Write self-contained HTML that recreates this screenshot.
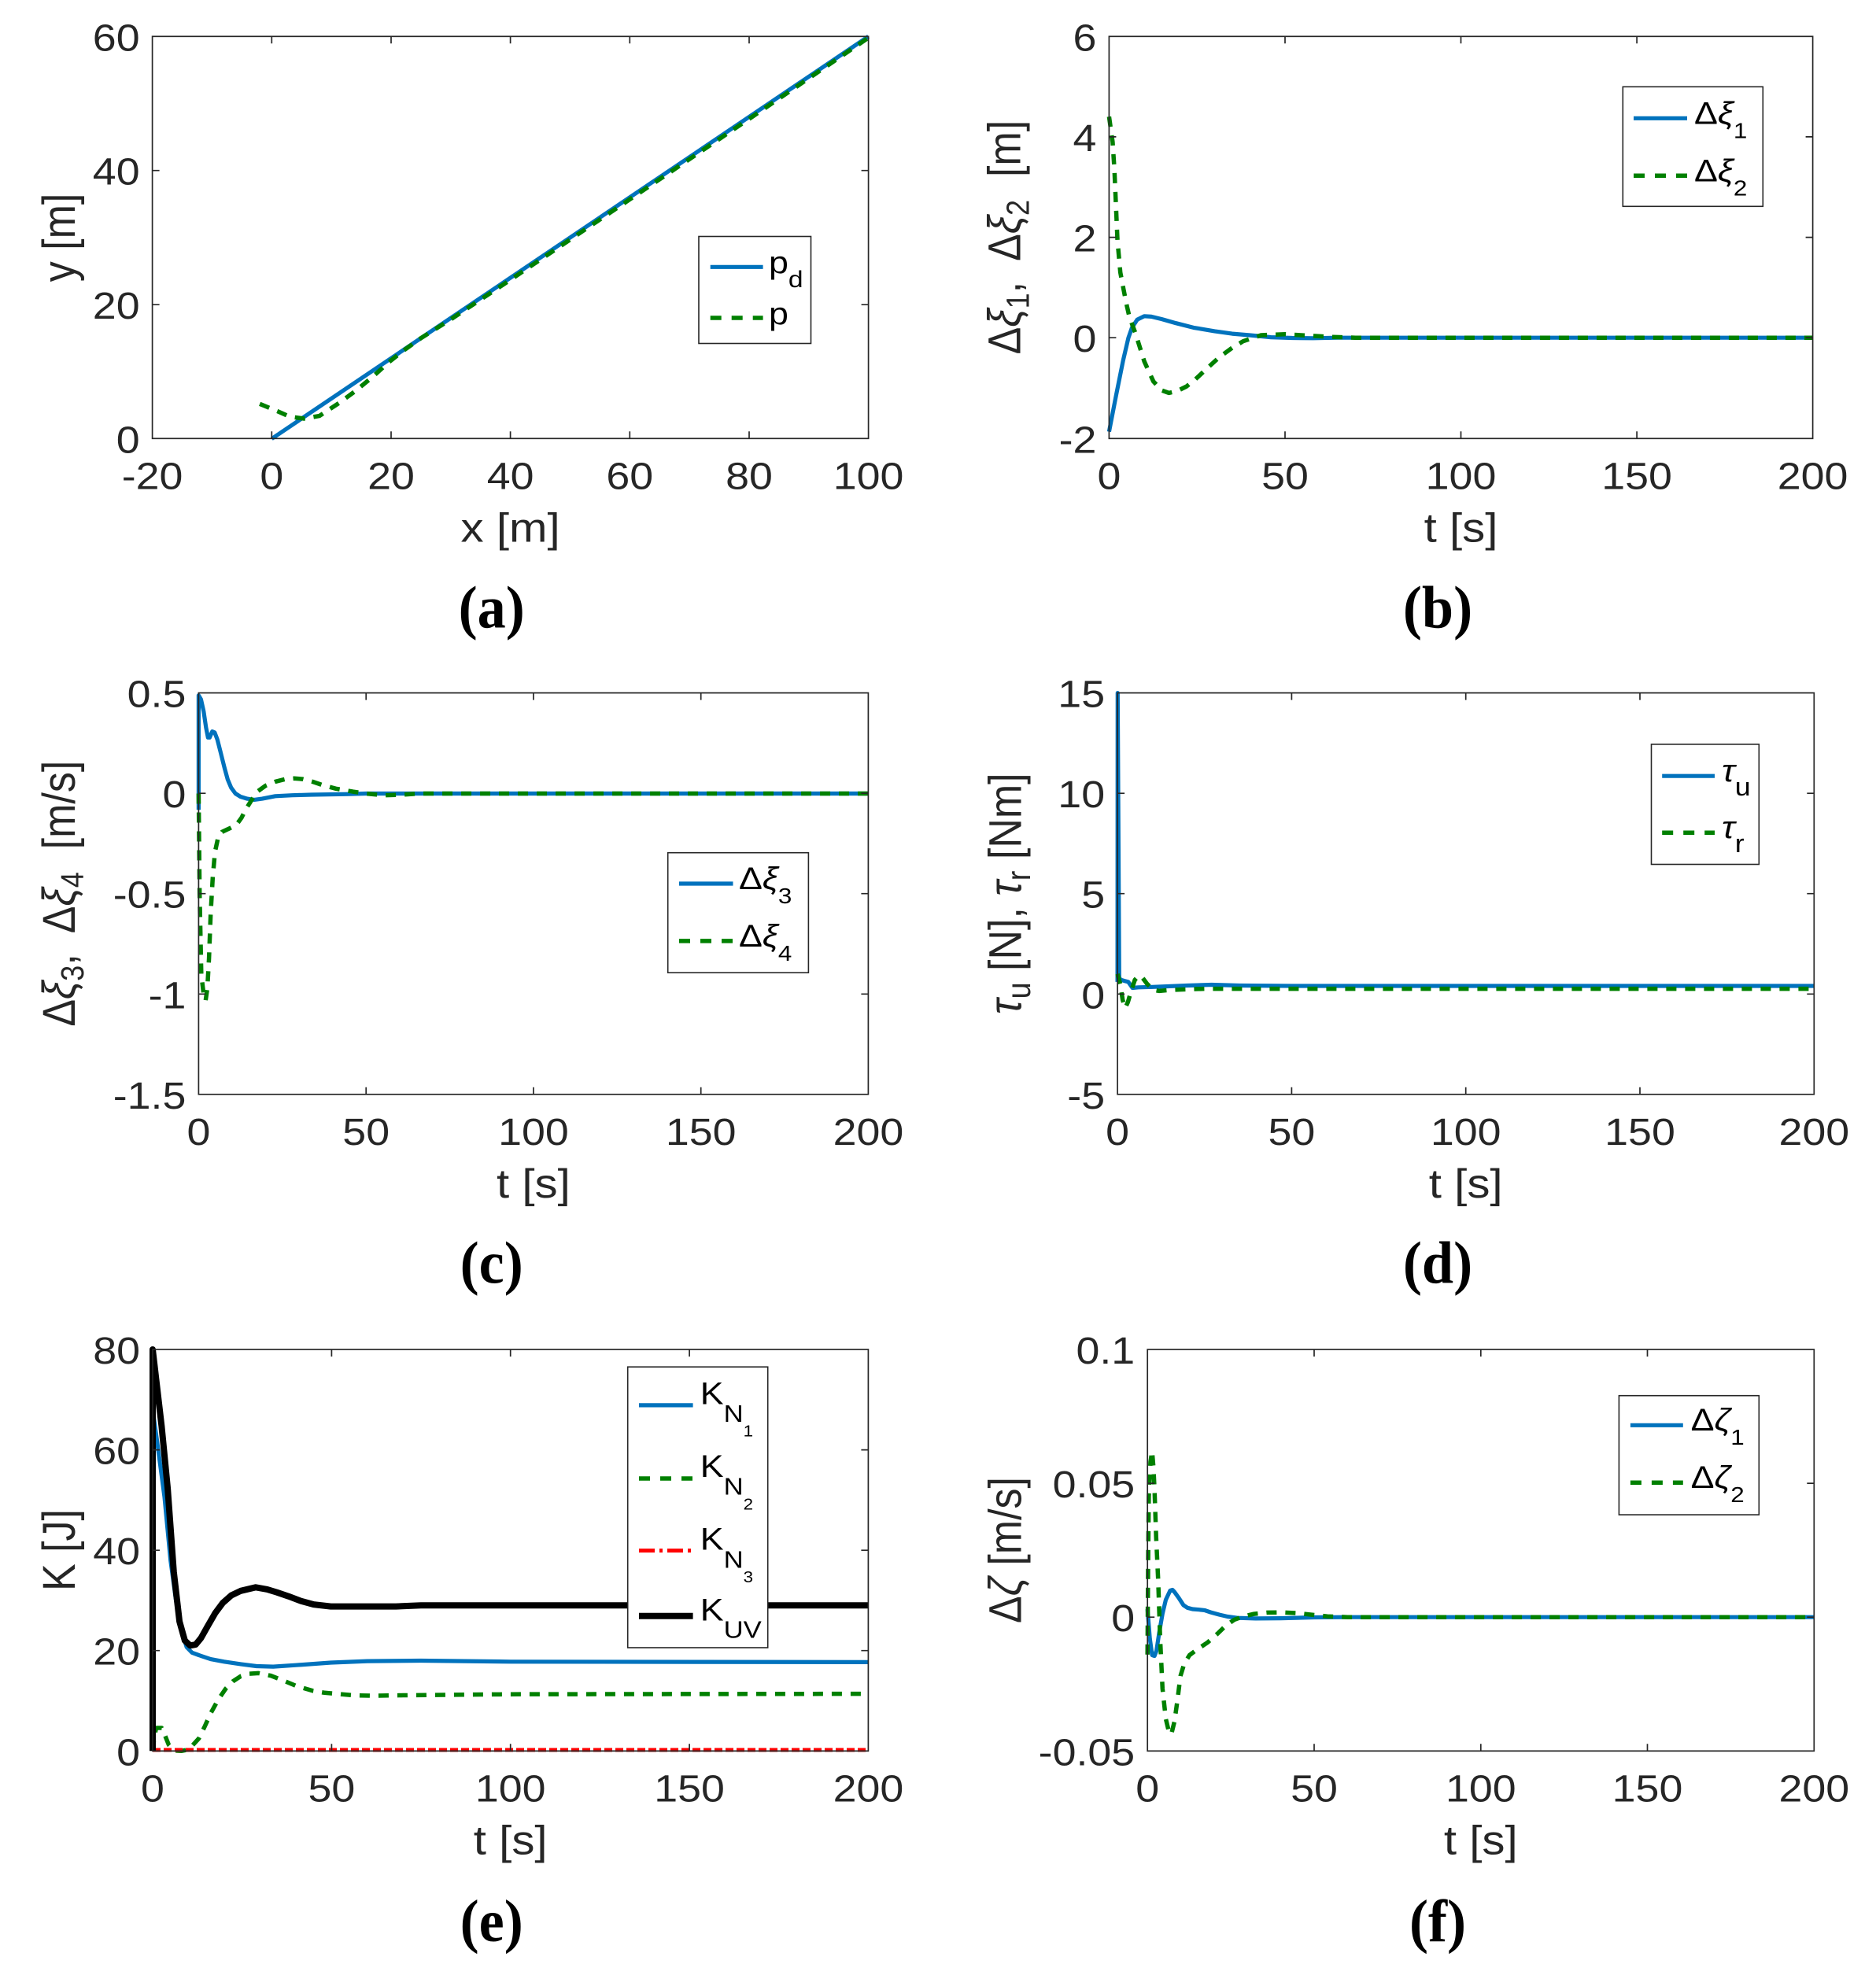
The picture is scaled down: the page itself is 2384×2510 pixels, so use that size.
<!DOCTYPE html>
<html>
<head>
<meta charset="utf-8">
<style>
html,body{margin:0;padding:0;background:#fff;}
svg{display:block;}
.tk{font-family:"Liberation Sans","DejaVu Sans",sans-serif;font-size:48px;fill:#262626;}
.lb{font-family:"Liberation Sans","DejaVu Sans",sans-serif;font-size:52px;fill:#262626;white-space:pre;}
.lg{font-family:"Liberation Sans","DejaVu Sans",sans-serif;font-size:40px;fill:#000;white-space:pre;}
.pl{font-family:"Liberation Serif","DejaVu Serif",serif;font-size:76px;font-weight:bold;fill:#000;}
.ax{fill:none;stroke:#262626;stroke-width:1.7;}
.bl{fill:none;stroke:#0072BD;stroke-width:5.2;stroke-linejoin:round;stroke-linecap:butt;}
.gr{fill:none;stroke:#008000;stroke-width:5.5;stroke-linejoin:round;stroke-dasharray:13 11;}
.rd{fill:none;stroke:#FF0000;stroke-width:5;stroke-dasharray:10 4;}
.bk{fill:none;stroke:#000;stroke-width:8;stroke-linejoin:round;}
.lgb{fill:#fff;stroke:#262626;stroke-width:1.6;}
</style>
</head>
<body>
<svg width="2384" height="2510" viewBox="0 0 2384 2510" xmlns="http://www.w3.org/2000/svg">
<rect x="0" y="0" width="2384" height="2510" fill="#fff"/>

<!-- ================= PANEL A ================= -->
<path class="bl" d="M345.3,557.6 L1103.6,46.3"/>
<path class="gr" d="M330.1,513.3 L352.9,522.7 L368,529.5 L386.2,532 L405.9,528.6 L431.7,511.6 L451.4,497.1 L474.2,478.3 L493.9,460.5 L512.1,446 L534.8,429.8 L572.8,405.9 L648.6,355.6 L800.3,253.4 L952,151.1 L1103.6,48"/>
<rect class="ax" x="193.6" y="46.3" width="910" height="511"/>
<path class="ax" d="M345.3,557.3V548.3M497,557.3V548.3M648.6,557.3V548.3M800.3,557.3V548.3M952,557.3V548.3
M345.3,46.3V55.3M497,46.3V55.3M648.6,46.3V55.3M800.3,46.3V55.3M952,46.3V55.3
M193.6,387.2H202.6M193.6,216.7H202.6M1103.6,387.2H1094.6M1103.6,216.7H1094.6"/>
<g class="tk" text-anchor="middle">
<text transform="translate(193.6,621.6) scale(1.12,1)">-20</text>
<text transform="translate(345.3,621.6) scale(1.12,1)">0</text>
<text transform="translate(497,621.6) scale(1.12,1)">20</text>
<text transform="translate(648.6,621.6) scale(1.12,1)">40</text>
<text transform="translate(800.3,621.6) scale(1.12,1)">60</text>
<text transform="translate(952,621.6) scale(1.12,1)">80</text>
<text transform="translate(1103.6,621.6) scale(1.12,1)">100</text>
</g>
<g class="tk" text-anchor="end">
<text transform="translate(177.6,575.6) scale(1.12,1)">0</text>
<text transform="translate(177.6,405.2) scale(1.12,1)">20</text>
<text transform="translate(177.6,234.7) scale(1.12,1)">40</text>
<text transform="translate(177.6,64.3) scale(1.12,1)">60</text>
</g>
<text class="lb" text-anchor="middle" transform="translate(648.6,688.6) scale(1.12,1)">x [m]</text>
<text class="lb" text-anchor="middle" transform="translate(95,302) scale(1.12,1) rotate(-90)">y [m]</text>
<rect class="lgb" x="888" y="300.5" width="142.5" height="136"/>
<path class="bl" d="M902.7,339.3H969.6"/>
<path class="gr" d="M902.7,404H969.6" style="stroke-dasharray:14 13"/>
<text class="lg" transform="translate(977,347) scale(1.12,1)">p<tspan font-size="30" dy="18">d</tspan></text>
<text class="lg" transform="translate(977,412) scale(1.12,1)">p</text>
<text class="pl" text-anchor="middle" transform="translate(624.7,797.3) scale(0.95,1)">(a)</text>

<!-- ================= PANEL B ================= -->
<path class="bl" d="M1409.4,548.6 L1418.3,502.6 L1427.3,457.9 L1434,429.2 L1438.5,416.4 L1445.2,406.2 L1454.1,401.8 L1463.1,402.4 L1476.5,405.6 L1494.4,410.7 L1516.7,416.4 L1543.5,420.9 L1565.9,424.1 L1588.2,426 L1615.1,428.6 L1641.9,429.5 L1668.7,429.8 L1700,429.2 L2303.6,429.2"/>
<path class="gr" d="M1409.4,148.3 L1413.9,180.3 L1416.1,214.1 L1420.1,306 L1423.7,346.2 L1427.7,367.3 L1431.8,387.7 L1435.3,403 L1442.9,423.5 L1454.1,459.2 L1465.7,484.7 L1476.5,496.2 L1485.4,499.4 L1496.1,496.9 L1507.8,491.1 L1518.9,482.2 L1534.6,467.5 L1549.3,454.1 L1565.9,442 L1579.7,433.7 L1602.5,426 L1633,424.7 L1663.4,426.6 L1691.1,428.2 L1722.4,429.2 L2303.6,429.2"/>
<rect class="ax" x="1409.4" y="46.3" width="894.2" height="511"/>
<path class="ax" d="M1633,557.3V548.3M1856.5,557.3V548.3M2080.1,557.3V548.3
M1633,46.3V55.3M1856.5,46.3V55.3M2080.1,46.3V55.3
M1409.4,429.2H1418.4M1409.4,301.6H1418.4M1409.4,173.9H1418.4
M2303.6,429.2H2294.6M2303.6,301.6H2294.6M2303.6,173.9H2294.6"/>
<g class="tk" text-anchor="middle">
<text transform="translate(1409.4,621.3) scale(1.12,1)">0</text>
<text transform="translate(1633,621.3) scale(1.12,1)">50</text>
<text transform="translate(1856.5,621.3) scale(1.12,1)">100</text>
<text transform="translate(2080.1,621.3) scale(1.12,1)">150</text>
<text transform="translate(2303.6,621.3) scale(1.12,1)">200</text>
</g>
<g class="tk" text-anchor="end">
<text transform="translate(1393.4,575.3) scale(1.12,1)">-2</text>
<text transform="translate(1393.4,447.2) scale(1.12,1)">0</text>
<text transform="translate(1393.4,319.6) scale(1.12,1)">2</text>
<text transform="translate(1393.4,191.9) scale(1.12,1)">4</text>
<text transform="translate(1393.4,64.3) scale(1.12,1)">6</text>
</g>
<text class="lb" text-anchor="middle" transform="translate(1856.5,688.3) scale(1.12,1)">t [s]</text>
<text class="lb" text-anchor="middle" transform="translate(1296.5,301.6) scale(1.12,1) rotate(-90)">Δ<tspan font-style="italic">ξ</tspan><tspan font-size="36" dy="10">1</tspan><tspan dy="-10">,  Δ</tspan><tspan font-style="italic">ξ</tspan><tspan font-size="36" dy="10">2</tspan><tspan dy="-10">  [m]</tspan></text>
<rect class="lgb" x="2062.3" y="110.3" width="178" height="152"/>
<path class="bl" d="M2076,150.3H2144"/>
<path class="gr" d="M2076,223.3H2144" style="stroke-dasharray:14 13"/>
<text class="lg" transform="translate(2153,157.5) scale(1.12,1)">Δ<tspan font-style="italic">ξ</tspan><tspan font-size="28" dy="18">1</tspan></text>
<text class="lg" transform="translate(2153,230.5) scale(1.12,1)">Δ<tspan font-style="italic">ξ</tspan><tspan font-size="28" dy="18">2</tspan></text>
<text class="pl" text-anchor="middle" transform="translate(1827,797.3) scale(0.95,1)">(b)</text>

<!-- ================= PANEL C ================= -->
<path class="bl" d="M252.4,1029.1 L252.4,883.7 L255.4,888.8 L258.8,904.1 L261.8,924.5 L264.3,937.3 L266.4,937.3 L269.8,929.6 L272.8,930.9 L276.2,939.8 L280.1,955.1 L285.2,975.5 L289.4,990.8 L293.7,1001 L299.2,1008.5 L305.6,1012.5 L314.1,1015.1 L323.1,1016.4 L333.2,1015.1 L349.8,1011.8 L371.5,1010.7 L395.4,1010 L443.9,1009.2 L465.2,1008.5 L1103.4,1008.5"/>
<path class="gr" d="M252.4,1008.5 L253.7,1136.3 L255.8,1238.3 L258.8,1263.8 L261.3,1271.5 L263.5,1256.1 L265.6,1217.9 L267.7,1161.8 L270.3,1115.8 L273.2,1082.7 L277.1,1064.8 L282.2,1057.2 L290.7,1053.3 L300.5,1048.2 L306.9,1039.3 L312,1029.1 L318.4,1018.9 L326.9,1006.1 L337.5,998.5 L349.8,993.4 L363,990.1 L373.7,989.3 L384.3,990.1 L397.1,993.4 L410.7,998 L426.9,1002.3 L448.6,1006.1 L465.2,1008.5 L486.4,1010.7 L507.7,1010.2 L533.2,1008.5 L1103.4,1008.5"/>
<rect class="ax" x="252.4" y="880.6" width="851" height="510.2"/>
<path class="ax" d="M465.2,1390.8V1381.8M677.9,1390.8V1381.8M890.7,1390.8V1381.8
M465.2,880.6V889.6M677.9,880.6V889.6M890.7,880.6V889.6
M252.4,1008.2H261.4M252.4,1135.7H261.4M252.4,1263.3H261.4
M1103.4,1008.2H1094.4M1103.4,1135.7H1094.4M1103.4,1263.3H1094.4"/>
<g class="tk" text-anchor="middle">
<text transform="translate(252.4,1454.8) scale(1.12,1)">0</text>
<text transform="translate(465.2,1454.8) scale(1.12,1)">50</text>
<text transform="translate(677.9,1454.8) scale(1.12,1)">100</text>
<text transform="translate(890.7,1454.8) scale(1.12,1)">150</text>
<text transform="translate(1103.4,1454.8) scale(1.12,1)">200</text>
</g>
<g class="tk" text-anchor="end">
<text transform="translate(236.4,898.6) scale(1.12,1)">0.5</text>
<text transform="translate(236.4,1026.2) scale(1.12,1)">0</text>
<text transform="translate(236.4,1153.7) scale(1.12,1)">-0.5</text>
<text transform="translate(236.4,1281.3) scale(1.12,1)">-1</text>
<text transform="translate(236.4,1408.8) scale(1.12,1)">-1.5</text>
</g>
<text class="lb" text-anchor="middle" transform="translate(677.9,1521.8) scale(1.12,1)">t [s]</text>
<text class="lb" text-anchor="middle" transform="translate(95,1135.7) scale(1.12,1) rotate(-90)">Δ<tspan font-style="italic">ξ</tspan><tspan font-size="36" dy="10">3</tspan><tspan dy="-10">,  Δ</tspan><tspan font-style="italic">ξ</tspan><tspan font-size="36" dy="10">4</tspan><tspan dy="-10">  [m/s]</tspan></text>
<rect class="lgb" x="848.7" y="1083.7" width="178.7" height="152.5"/>
<path class="bl" d="M863,1123H931.5"/>
<path class="gr" d="M863,1195.9H931.5" style="stroke-dasharray:14 13"/>
<text class="lg" transform="translate(939,1130) scale(1.12,1)">Δ<tspan font-style="italic">ξ</tspan><tspan font-size="28" dy="18">3</tspan></text>
<text class="lg" transform="translate(939,1203) scale(1.12,1)">Δ<tspan font-style="italic">ξ</tspan><tspan font-size="28" dy="18">4</tspan></text>
<text class="pl" text-anchor="middle" transform="translate(624.7,1630.6) scale(0.95,1)">(c)</text>

<!-- ================= PANEL D ================= -->
<path class="bl" d="M1420.1,1247.9 L1420.3,880.6 L1422.3,1242.8 L1424.5,1245.3 L1429,1246.6 L1433.8,1247.9 L1439.1,1255.5 L1446.7,1254.8 L1464.4,1254.3 L1508.6,1252.5 L1539.6,1251.5 L1575,1252.5 L1641.4,1253 L2305.3,1253"/>
<path class="gr" d="M1420.1,1237.7 L1423.6,1250.4 L1426.7,1270.9 L1429.8,1281.1 L1433.4,1273.4 L1437.8,1258.1 L1442.2,1245.3 L1446.7,1240.2 L1451.1,1241.5 L1457.7,1250.4 L1465.7,1258.1 L1473.2,1259.4 L1486.5,1258.1 L1530.8,1256.6 L2305.3,1256.6"/>
<rect class="ax" x="1420.1" y="880.6" width="885.2" height="510.2"/>
<path class="ax" d="M1641.4,1390.8V1381.8M1862.7,1390.8V1381.8M2084,1390.8V1381.8
M1641.4,880.6V889.6M1862.7,880.6V889.6M2084,880.6V889.6
M1420.1,1008.2H1429.1M1420.1,1135.7H1429.1M1420.1,1263.3H1429.1
M2305.3,1008.2H2296.3M2305.3,1135.7H2296.3M2305.3,1263.3H2296.3"/>
<g class="tk" text-anchor="middle">
<text transform="translate(1420.1,1454.8) scale(1.12,1)">0</text>
<text transform="translate(1641.4,1454.8) scale(1.12,1)">50</text>
<text transform="translate(1862.7,1454.8) scale(1.12,1)">100</text>
<text transform="translate(2084,1454.8) scale(1.12,1)">150</text>
<text transform="translate(2305.3,1454.8) scale(1.12,1)">200</text>
</g>
<g class="tk" text-anchor="end">
<text transform="translate(1404.1,898.6) scale(1.12,1)">15</text>
<text transform="translate(1404.1,1026.2) scale(1.12,1)">10</text>
<text transform="translate(1404.1,1153.7) scale(1.12,1)">5</text>
<text transform="translate(1404.1,1281.3) scale(1.12,1)">0</text>
<text transform="translate(1404.1,1408.8) scale(1.12,1)">-5</text>
</g>
<text class="lb" text-anchor="middle" transform="translate(1862.7,1521.8) scale(1.12,1)">t [s]</text>
<text class="lb" text-anchor="middle" transform="translate(1297.7,1135.7) scale(1.12,1) rotate(-90)"><tspan font-style="italic">τ</tspan><tspan font-size="38" dy="10">u</tspan><tspan dy="-10"> [N], </tspan><tspan font-style="italic">τ</tspan><tspan font-size="38" dy="10">r</tspan><tspan dy="-10"> [Nm]</tspan></text>
<rect class="lgb" x="2098.5" y="945.9" width="136.8" height="152.6"/>
<path class="bl" d="M2112.2,986.2H2179"/>
<path class="gr" d="M2112.2,1058.2H2179" style="stroke-dasharray:14 13"/>
<text class="lg" transform="translate(2188,993) scale(1.12,1)"><tspan font-style="italic">τ</tspan><tspan font-size="32" dy="18">u</tspan></text>
<text class="lg" transform="translate(2188,1065) scale(1.12,1)"><tspan font-style="italic">τ</tspan><tspan font-size="32" dy="18">r</tspan></text>
<text class="pl" text-anchor="middle" transform="translate(1827,1630.6) scale(0.95,1)">(d)</text>

<!-- ================= PANEL E ================= -->
<path class="bl" d="M194,1791.5 L199.2,1828.5 L209,1902.5 L216.7,1982.9 L223.6,2033.9 L230.4,2072.2 L237.2,2093.3 L244,2100.3 L252.7,2103.5 L267.7,2108.6 L284.9,2111.8 L305.9,2114.9 L325.9,2117.5 L347.2,2118.1 L375.9,2116.2 L420.4,2113 L466.8,2111.1 L534.6,2110.5 L648.7,2111.8 L1103.4,2112.4"/>
<path class="gr" d="M194,2225.3 L196.3,2206.2 L198.5,2196 L205.4,2196 L209.9,2206.2 L214.5,2217.6 L220.8,2224.7 L230.4,2225.3 L237.2,2224 L244,2218.9 L252.7,2209.4 L259.9,2194.7 L267.7,2177.5 L277.2,2160.2 L286.8,2146.2 L296.3,2136.6 L305.9,2130.3 L316.8,2127.1 L328.6,2126.4 L344.1,2129.6 L359.1,2135.4 L375.9,2142.4 L397.3,2148.8 L412.3,2151.3 L427.7,2152.6 L448.6,2154.5 L473.2,2155.1 L512.3,2154.5 L648.7,2153.2 L1103.4,2152.6"/>
<path class="rd" d="M194,2224 L1103.4,2224"/>
<path class="bk" d="M194,2225.3 L194,1715 L199.2,1759.6 L205.4,1812.6 L213.1,1891.7 L220.8,1997.6 L228.1,2060.7 L234.9,2085 L241.7,2091.3 L248.6,2090.1 L255.4,2081.8 L264,2066.5 L273.6,2049.9 L283.1,2037.1 L294,2027.5 L305.9,2021.8 L324.9,2017.3 L339.5,2019.9 L351.8,2023.7 L366.8,2028.8 L382.2,2034.6 L398.6,2039.1 L420.4,2041.6 L466.8,2041.6 L503.2,2041.6 L535,2040.3 L1103.4,2040.3"/>
<rect class="ax" x="194" y="1715" width="909.4" height="510.3"/>
<path class="ax" d="M421.4,2225.3V2216.3M648.7,2225.3V2216.3M876.1,2225.3V2216.3
M421.4,1715V1724M648.7,1715V1724M876.1,1715V1724
M194,1842.6H203M194,1970.2H203M194,2097.7H203
M1103.4,1842.6H1094.4M1103.4,1970.2H1094.4M1103.4,2097.7H1094.4"/>
<g class="tk" text-anchor="middle">
<text transform="translate(194,2289.3) scale(1.12,1)">0</text>
<text transform="translate(421.4,2289.3) scale(1.12,1)">50</text>
<text transform="translate(648.7,2289.3) scale(1.12,1)">100</text>
<text transform="translate(876.1,2289.3) scale(1.12,1)">150</text>
<text transform="translate(1103.4,2289.3) scale(1.12,1)">200</text>
</g>
<g class="tk" text-anchor="end">
<text transform="translate(178,1733) scale(1.12,1)">80</text>
<text transform="translate(178,1860.6) scale(1.12,1)">60</text>
<text transform="translate(178,1988.2) scale(1.12,1)">40</text>
<text transform="translate(178,2115.7) scale(1.12,1)">20</text>
<text transform="translate(178,2243.3) scale(1.12,1)">0</text>
</g>
<text class="lb" text-anchor="middle" transform="translate(648.7,2356.3) scale(1.12,1)">t [s]</text>
<text class="lb" text-anchor="middle" transform="translate(95,1970) scale(1.12,1) rotate(-90)">K [J]</text>
<rect class="lgb" x="797.7" y="1737.2" width="178" height="356.8"/>
<path class="bl" d="M812,1785.9H880.6"/>
<path class="gr" d="M812,1879H880.6" style="stroke-dasharray:14 13"/>
<path class="rd" d="M812,1970.6H880.6" style="stroke-dasharray:20 6 4 6"/>
<path class="bk" d="M812,2053.7H880.6"/>
<text class="lg" transform="translate(889.7,1784.3) scale(1.12,1)">K<tspan font-size="31" dy="22.7">N</tspan><tspan font-size="20" dy="18.6">1</tspan></text>
<text class="lg" transform="translate(889.7,1877) scale(1.12,1)">K<tspan font-size="31" dy="22.7">N</tspan><tspan font-size="20" dy="18.6">2</tspan></text>
<text class="lg" transform="translate(889.7,1969.6) scale(1.12,1)">K<tspan font-size="31" dy="22.7">N</tspan><tspan font-size="20" dy="18.6">3</tspan></text>
<text class="lg" transform="translate(889.7,2059.6) scale(1.12,1)">K<tspan font-size="31" dy="21.7">UV</tspan></text>
<text class="pl" text-anchor="middle" transform="translate(624.7,2467) scale(0.95,1)">(e)</text>

<!-- ================= PANEL F ================= -->
<path class="bl" d="M1458.2,2045 L1461.2,2082.4 L1464.1,2103.5 L1467.1,2104.5 L1469.6,2098.1 L1473,2075.6 L1477.3,2050.8 L1481.5,2033.1 L1487,2021.5 L1490,2020.5 L1492.5,2023.2 L1498.4,2031.4 L1503.9,2039.9 L1509,2043.3 L1515.4,2045 L1523.8,2045.7 L1530.6,2046.4 L1538.7,2049.1 L1549.7,2052.1 L1559.9,2054.5 L1572.6,2056.2 L1595.4,2056.9 L1627.6,2056.6 L1670,2055.5 L1712.3,2055.2 L2305.3,2055.2"/>
<path class="gr" d="M1458.2,2102.8 L1459,1987.2 L1459.9,1902.1 L1462,1857.9 L1464.1,1844.3 L1465.8,1864.7 L1467.1,1891.9 L1469.2,1953.1 L1471.8,2008.3 L1474.3,2082.4 L1477.3,2146 L1481.5,2184.5 L1486.2,2204.2 L1489.1,2201.5 L1492.5,2187.9 L1496.3,2160.7 L1500.1,2130 L1504.8,2114.7 L1511.6,2103.5 L1521.7,2096 L1534.4,2087.5 L1547.1,2076.3 L1557.3,2066.4 L1568.3,2058.6 L1580.2,2054.2 L1593.7,2051.1 L1610.7,2049.4 L1627.6,2049.1 L1648.8,2050.1 L1670,2052.5 L1686.9,2054.2 L1712.3,2055.2 L2305.3,2055.2"/>
<rect class="ax" x="1458.2" y="1715" width="847.1" height="510.3"/>
<path class="ax" d="M1670,2225.3V2216.3M1881.8,2225.3V2216.3M2093.5,2225.3V2216.3
M1670,1715V1724M1881.8,1715V1724M2093.5,1715V1724
M1458.2,1885.1H1467.2M1458.2,2055.2H1467.2
M2305.3,1885.1H2296.3M2305.3,2055.2H2296.3"/>
<g class="tk" text-anchor="middle">
<text transform="translate(1458.2,2289.3) scale(1.12,1)">0</text>
<text transform="translate(1670,2289.3) scale(1.12,1)">50</text>
<text transform="translate(1881.8,2289.3) scale(1.12,1)">100</text>
<text transform="translate(2093.5,2289.3) scale(1.12,1)">150</text>
<text transform="translate(2305.3,2289.3) scale(1.12,1)">200</text>
</g>
<g class="tk" text-anchor="end">
<text transform="translate(1442.2,1733) scale(1.12,1)">0.1</text>
<text transform="translate(1442.2,1903.1) scale(1.12,1)">0.05</text>
<text transform="translate(1442.2,2073.2) scale(1.12,1)">0</text>
<text transform="translate(1442.2,2243.3) scale(1.12,1)">-0.05</text>
</g>
<text class="lb" text-anchor="middle" transform="translate(1881.8,2356.3) scale(1.12,1)">t [s]</text>
<text class="lb" text-anchor="middle" transform="translate(1297.7,1970) scale(1.12,1) rotate(-90)">Δ<tspan font-style="italic">ζ</tspan><tspan> [m/s]</tspan></text>
<rect class="lgb" x="2057.4" y="1773.7" width="177.9" height="151.4"/>
<path class="bl" d="M2071.9,1811.3H2138.8"/>
<path class="gr" d="M2071.9,1884.3H2138.8" style="stroke-dasharray:14 13"/>
<text class="lg" transform="translate(2148.6,1818) scale(1.12,1)">Δ<tspan font-style="italic">ζ</tspan><tspan font-size="28" dy="18">1</tspan></text>
<text class="lg" transform="translate(2148.6,1891) scale(1.12,1)">Δ<tspan font-style="italic">ζ</tspan><tspan font-size="28" dy="18">2</tspan></text>
<text class="pl" text-anchor="middle" transform="translate(1827,2467) scale(0.95,1)">(f)</text>
</svg>
</body>
</html>
